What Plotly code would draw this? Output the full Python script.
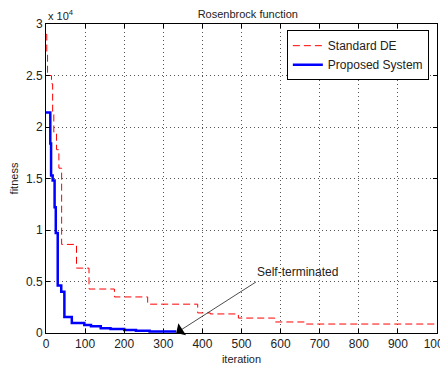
import plotly.graph_objects as go

# Standard DE (step curve): iteration where a new level starts, and the level
de_iter = [0, 2, 4, 14, 17, 20, 27, 33, 40, 78, 110, 175, 260, 388, 420, 492, 585, 662, 1000]
de_fit = [29000, 27000, 25000, 24200, 21500, 19500, 17800, 16000, 8600, 6300, 4270, 3500, 2800,
          1950, 1850, 1450, 1070, 870, 870]

# Proposed System (step curve)
ps_iter = [0, 11, 13, 17, 22, 25, 30, 39, 47, 66, 98, 115, 140, 165, 200, 230, 265, 333]
ps_fit = [21400, 18400, 15300, 14800, 12200, 9700, 4600, 4000, 1550, 980, 780, 650, 450, 400,
          300, 220, 150, 150]

x_ticks = [0, 100, 200, 300, 400, 500, 600, 700, 800, 900, 1000]
y_ticks = [0, 5000, 10000, 15000, 20000, 25000, 30000]
y_tick_labels = ["0", "0.5", "1", "1.5", "2", "2.5", "3"]

FONT = "Liberation Sans, Arial, sans-serif"
TXT = "#222222"

fig = go.Figure()
fig.add_trace(go.Scatter(x=de_iter, y=de_fit, mode="lines", line_shape="hv",
                         name="Standard DE",
                         line=dict(color="#ff0000", width=1, dash="7px,4px")))
fig.add_trace(go.Scatter(x=ps_iter, y=ps_fit, mode="lines", line_shape="hv",
                         name="Proposed System",
                         line=dict(color="#0000ff", width=2.5)))

axis_common = dict(showline=True, linecolor="black", linewidth=1, mirror="ticks",
                   ticks="inside", ticklen=4, tickcolor="black", automargin=False,
                   showgrid=True, gridcolor="#555555", griddash="1px,3px", gridwidth=1,
                   zeroline=False, ticklabeloverflow="allow",
                   tickfont=dict(size=12, color=TXT, family=FONT))

fig.update_xaxes(range=[0, 1000], tickvals=x_ticks,
                 title=dict(text="iteration", font=dict(size=11, color=TXT, family=FONT), standoff=4),
                 **axis_common)
fig.update_yaxes(range=[0, 30000], tickvals=y_ticks, ticktext=y_tick_labels,
                 title=dict(text="fitness", font=dict(size=11, color=TXT, family=FONT), standoff=6),
                 **axis_common)

# arrow
fig.add_annotation(x=333, y=0, ax=541, ay=5050, axref="x", ayref="y", xref="x", yref="y",
                   text="", showarrow=True, arrowhead=1, arrowsize=3.4,
                   arrowwidth=0.7, arrowcolor="black", standoff=0, startstandoff=0)
# label
fig.add_annotation(x=642, y=5920, xref="x", yref="y", text="Self-terminated", showarrow=False,
                   font=dict(size=12, color=TXT, family=FONT))
# exponent label
fig.add_annotation(x=0, y=1.0, xref="paper", yref="paper", xanchor="left", yanchor="bottom",
                   text="x 10<sup>4</sup>", showarrow=False,
                   font=dict(size=11, color=TXT, family=FONT))

fig.update_layout(
    width=440, height=362,
    margin=dict(l=38, r=11, t=16, b=37),
    paper_bgcolor="white", plot_bgcolor="white",
    font=dict(family=FONT, size=11, color=TXT),
    title=dict(text="Rosenbrock function", x=0.545, xanchor="center", y=0.993, yanchor="top",
               pad=dict(t=0), font=dict(size=11, color=TXT, family=FONT)),
    legend=dict(x=0.616, y=0.98, xanchor="left", yanchor="top", bgcolor="white",
                bordercolor="black", borderwidth=1, font=dict(size=12, color=TXT, family=FONT),
                tracegroupgap=0),
    showlegend=True,
)

fig.write_html("out.html")
